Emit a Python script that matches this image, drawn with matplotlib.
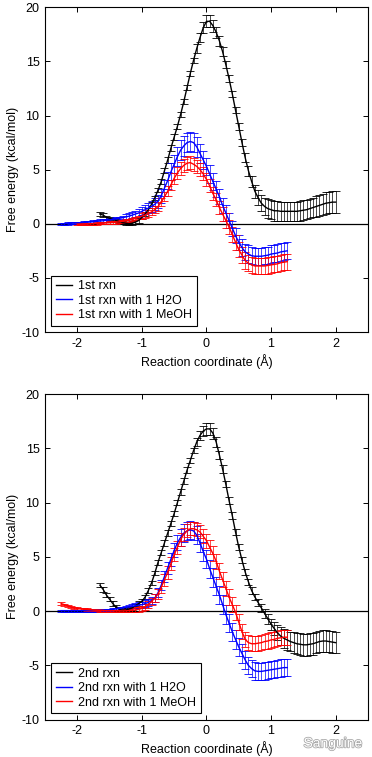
import numpy as np
import matplotlib
matplotlib.use('Agg')
import matplotlib.pyplot as plt
import matplotlib.patheffects as pe

plt.rcParams['font.family'] = ['Liberation Sans', 'DejaVu Sans']
plt.rcParams['font.size'] = 9
plt.rcParams['axes.unicode_minus'] = False

# ---- data, x grids step 0.05 A ----
x_long = np.round(np.arange(-1.65, 2.001, 0.05), 2)    # black curves
x_h2o = np.round(np.arange(-2.25, 1.251, 0.05), 2)     # blue curves (and red in panel 2)
x_meoh1 = np.round(np.arange(-2.0, 1.251, 0.05), 2)    # red curve in panel 1

# panel 1: 1st rxn
rxn1 = [0.9, 0.8, 0.6, 0.5, 0.4, 0.3, 0.2, 0.1, 0.05, 0.0,
        0.05, 0.15, 0.3, 0.6, 0.9, 1.3, 1.8, 2.4, 3.1, 3.9,
        4.9, 5.9, 7.0, 8.0, 9.0, 10.1, 11.3, 12.6, 13.9, 15.1,
        16.2, 17.2, 18.1, 18.7, 18.7, 18.3, 17.7, 16.9, 15.9, 14.7,
        13.4, 12.0, 10.5, 9.0, 7.5, 6.1, 4.9, 3.9, 3.0, 2.4,
        1.9, 1.6, 1.4, 1.3, 1.2, 1.2, 1.15, 1.15, 1.15, 1.15,
        1.15, 1.15, 1.2, 1.25, 1.3, 1.4, 1.5, 1.6, 1.7, 1.8,
        1.9, 1.95, 2.0, 2.0]
rxn1_err = [0.15] * 10 + [0.2] * 10 + [0.25] * 10 + \
    [0.4, 0.45, 0.5, 0.55, 0.55, 0.55, 0.5, 0.45, 0.4, 0.35,
     0.3, 0.3, 0.3, 0.3, 0.35, 0.4, 0.45, 0.5, 0.6, 0.7,
     0.75, 0.8, 0.85, 0.9, 0.9, 0.9, 0.9, 0.9, 0.9, 0.9,
     0.9, 0.9, 0.9, 0.9, 0.9, 0.9, 0.9, 0.95, 0.95, 0.95,
     1.0, 1.0, 1.0, 1.0]

rxn1_h2o = [0.0, 0.0, 0.02, 0.04, 0.06, 0.08, 0.1, 0.12, 0.14, 0.16,
            0.19, 0.22, 0.25, 0.28, 0.32, 0.36, 0.4, 0.45, 0.5, 0.56,
            0.63, 0.7, 0.8, 0.9, 1.0, 1.15, 1.3, 1.45, 1.6, 1.8,
            2.1, 2.6, 3.3, 4.0, 4.8, 5.5, 6.2, 6.8, 7.2, 7.5,
            7.6, 7.5, 7.1, 6.5, 5.9, 5.3, 4.6, 3.9, 3.2, 2.5,
            1.7, 1.0, 0.3, -0.4, -1.1, -1.7, -2.2, -2.6, -2.8, -2.95,
            -3.0, -3.0, -3.0, -2.95, -2.9, -2.8, -2.75, -2.7, -2.6, -2.55, -2.5]
rxn1_h2o_err = [0.1] * 10 + [0.15] * 10 + \
    [0.25, 0.27, 0.3, 0.32, 0.35, 0.38, 0.4, 0.45, 0.5, 0.55,
     0.6, 0.65, 0.7, 0.75, 0.8, 0.85, 0.85, 0.9, 0.9, 0.9,
     0.9, 0.9, 0.9, 0.85, 0.85, 0.8, 0.8, 0.75, 0.75, 0.7,
     0.7, 0.7, 0.7, 0.7, 0.7, 0.7, 0.75, 0.75, 0.8, 0.8,
     0.8, 0.8, 0.8, 0.8, 0.8, 0.8, 0.8, 0.8, 0.8, 0.8, 0.8]

rxn1_meoh = [-0.05, -0.05, -0.04, -0.03, -0.02, 0.0, 0.02, 0.04, 0.06, 0.08,
             0.1, 0.12, 0.15, 0.18, 0.22, 0.27, 0.33, 0.4, 0.5, 0.6,
             0.7, 0.8, 0.95, 1.1, 1.3, 1.6, 2.0, 2.5, 3.0, 3.6,
             4.2, 4.7, 5.1, 5.4, 5.6, 5.65, 5.5, 5.3, 5.0, 4.6,
             4.1, 3.5, 2.8, 2.2, 1.5, 0.9, 0.3, -0.3, -1.0, -1.7,
             -2.4, -2.9, -3.4, -3.65, -3.8, -3.9, -3.9, -3.9, -3.9, -3.85,
             -3.8, -3.75, -3.7, -3.6, -3.55, -3.5]
rxn1_meoh_err = [0.1] * 10 + [0.15] * 10 + \
    [0.25, 0.27, 0.3, 0.32, 0.35, 0.38, 0.4, 0.42, 0.45, 0.48,
     0.5, 0.55, 0.6, 0.6, 0.6, 0.6, 0.6, 0.6, 0.6, 0.6,
     0.6, 0.6, 0.6, 0.6, 0.6, 0.65, 0.65, 0.65, 0.7, 0.7,
     0.7, 0.75, 0.75, 0.75, 0.75, 0.75, 0.75, 0.75, 0.75, 0.75,
     0.75, 0.75, 0.75, 0.75, 0.75, 0.75]

# panel 2: 2nd rxn
rxn2 = [2.4, 2.0, 1.5, 1.1, 0.7, 0.35, 0.15, 0.1, 0.1, 0.2,
        0.3, 0.5, 0.7, 0.9, 1.3, 1.9, 2.6, 3.5, 4.5, 5.4,
        6.3, 7.2, 8.1, 9.0, 10.0, 11.0, 12.0, 13.0, 13.9, 14.8,
        15.6, 16.2, 16.6, 16.8, 16.8, 16.4, 15.6, 14.4, 13.1, 11.7,
        10.2, 8.8, 7.3, 5.9, 4.7, 3.6, 2.7, 1.9, 1.3, 0.8,
        0.3, -0.2, -0.7, -1.2, -1.6, -2.0, -2.3, -2.5, -2.65, -2.8,
        -2.9, -3.0, -3.05, -3.1, -3.1, -3.05, -3.0, -2.9, -2.8, -2.75,
        -2.75, -2.8, -2.85, -2.9]
rxn2_err = [0.2] * 20 + [0.25] * 10 + \
    [0.35, 0.45, 0.5, 0.55, 0.55, 0.5, 0.45, 0.4, 0.35, 0.3,
     0.3, 0.3, 0.3, 0.3, 0.3, 0.3, 0.3, 0.3, 0.3, 0.3,
     0.35, 0.4, 0.45, 0.5, 0.6, 0.7, 0.8, 0.85, 0.9, 0.9,
     0.95, 0.95, 1.0, 1.0, 1.0, 1.0, 1.0, 1.0, 1.0, 1.0,
     1.0, 1.0, 1.0, 1.0]

rxn2_h2o = [0.05, 0.05, 0.05, 0.05, 0.05, 0.05, 0.05, 0.05, 0.05, 0.05,
            0.06, 0.07, 0.08, 0.1, 0.12, 0.14, 0.17, 0.2, 0.25, 0.3,
            0.35, 0.4, 0.45, 0.5, 0.55, 0.6, 0.7, 0.8, 1.0, 1.2,
            1.7, 2.4, 3.2, 4.0, 4.8, 5.6, 6.3, 6.8, 7.2, 7.4,
            7.5, 7.4, 7.0, 6.3, 5.5, 4.8, 3.9, 3.1, 2.3, 1.5,
            0.6, -0.3, -1.1, -1.9, -2.6, -3.3, -3.9, -4.5, -5.0, -5.3,
            -5.5, -5.55, -5.55, -5.5, -5.45, -5.4, -5.35, -5.3, -5.25, -5.2, -5.2]
rxn2_h2o_err = [0.1] * 20 + \
    [0.15, 0.17, 0.2, 0.22, 0.25, 0.27, 0.3, 0.32, 0.35, 0.38,
     0.4, 0.45, 0.5, 0.55, 0.6, 0.65, 0.7, 0.75, 0.8, 0.85,
     0.85, 0.85, 0.85, 0.85, 0.85, 0.85, 0.85, 0.85, 0.85, 0.85,
     0.85, 0.85, 0.85, 0.85, 0.85, 0.85, 0.85, 0.85, 0.8, 0.8,
     0.8, 0.8, 0.8, 0.8, 0.8, 0.8, 0.8, 0.8, 0.8, 0.8, 0.8]

rxn2_meoh = [0.7, 0.6, 0.5, 0.4, 0.3, 0.25, 0.2, 0.17, 0.15, 0.13,
             0.1, 0.08, 0.06, 0.05, 0.04, 0.03, 0.03, 0.02, 0.02, 0.02,
             0.03, 0.05, 0.08, 0.12, 0.18, 0.25, 0.4, 0.6, 0.9, 1.2,
             1.6, 2.2, 2.9, 3.6, 4.4, 5.2, 5.9, 6.6, 7.1, 7.4,
             7.6, 7.6, 7.5, 7.3, 6.9, 6.5, 5.9, 5.3, 4.6, 3.7,
             2.9, 2.1, 1.3, 0.6, -0.1, -1.0, -1.9, -2.6, -2.9, -3.0,
             -3.0, -2.95, -2.9, -2.8, -2.75, -2.65, -2.6, -2.5, -2.45, -2.4, -2.4]
rxn2_meoh_err = [0.1] * 20 + \
    [0.15, 0.17, 0.2, 0.22, 0.25, 0.27, 0.3, 0.33, 0.36, 0.4,
     0.45, 0.5, 0.55, 0.6, 0.6, 0.6, 0.6, 0.6, 0.6, 0.6,
     0.6, 0.6, 0.6, 0.6, 0.65, 0.65, 0.65, 0.7, 0.7, 0.7,
     0.7, 0.7, 0.7, 0.7, 0.7, 0.7, 0.7, 0.7, 0.7, 0.7,
     0.7, 0.7, 0.7, 0.7, 0.7, 0.7, 0.7, 0.7, 0.7, 0.7, 0.7]

panels = [
    [(x_long, rxn1, rxn1_err, 'k', '1st rxn'),
     (x_h2o, rxn1_h2o, rxn1_h2o_err, '#0000ff', '1st rxn with 1 H2O'),
     (x_meoh1, rxn1_meoh, rxn1_meoh_err, '#ff0000', '1st rxn with 1 MeOH')],
    [(x_long, rxn2, rxn2_err, 'k', '2nd rxn'),
     (x_h2o, rxn2_h2o, rxn2_h2o_err, '#0000ff', '2nd rxn with 1 H2O'),
     (x_h2o, rxn2_meoh, rxn2_meoh_err, '#ff0000', '2nd rxn with 1 MeOH')],
]

fig = plt.figure(figsize=(3.72, 7.57), dpi=100)
axes_pos = [[0.121, 0.5614, 0.868, 0.429], [0.121, 0.0493, 0.868, 0.430]]

for pos, series in zip(axes_pos, panels):
    ax = fig.add_axes(pos)
    ax.axhline(0, color='k', lw=0.9, zorder=1)
    handles, labels = [], []
    for x, y, err, col, label in series:
        c = ax.errorbar(x, y, yerr=err, fmt='-', color=col, lw=1.0,
                        elinewidth=0.5, capsize=3.2, capthick=0.6, zorder=2)
        handles.append(c[0])
        labels.append(label)
    ax.set_xlim(-2.5, 2.5)
    ax.set_ylim(-10, 20)
    ax.set_xticks([-2, -1, 0, 1, 2])
    ax.set_yticks([-10, -5, 0, 5, 10, 15, 20])
    ax.tick_params(direction='in', top=True, right=True, length=3.5, width=0.7,
                   labelsize=9, pad=4)
    for s in ax.spines.values():
        s.set_linewidth(0.8)
    ax.set_xlabel('Reaction coordinate (Å)', fontsize=9, labelpad=3)
    ax.set_ylabel('Free energy (kcal/mol)', fontsize=9, labelpad=2)
    leg = ax.legend(handles, labels, loc='lower left', bbox_to_anchor=(0.02, 0.02),
                    borderaxespad=0, fontsize=9, fancybox=False, edgecolor='k',
                    framealpha=1, handlelength=1.3, handletextpad=0.5,
                    labelspacing=0.2, borderpad=0.35)
    leg.get_frame().set_linewidth(0.8)

fig.text(0.895, 0.018, 'Sanguine', fontsize=10, color='white', ha='center', va='center',
         path_effects=[pe.withStroke(linewidth=1.2, foreground='#aaaaaa')])

fig.savefig('out.png', dpi=100, facecolor='white')
